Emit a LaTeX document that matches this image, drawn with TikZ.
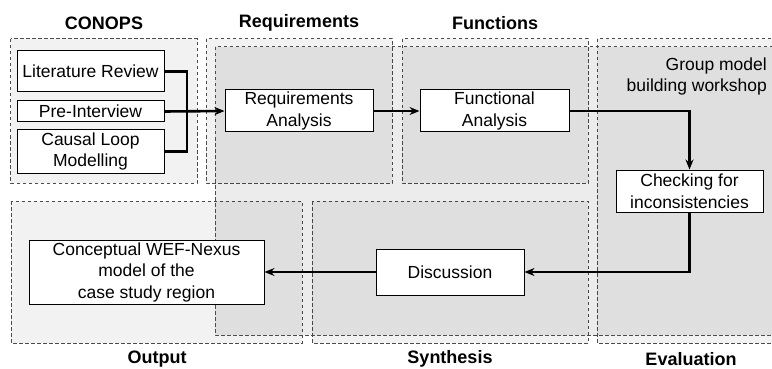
\documentclass[tikz,border=0pt]{standalone}
\usepackage{fontspec}
\setmainfont{Liberation Sans}
\usetikzlibrary{arrows.meta}
\tikzset{ blk/.style = { rectangle
                       , draw
                       , fill         = white
                       , line width   = 1pt
                       , inner sep    = 0pt
                       , align        = center
                       },
          phase/.style = { draw = black!70
                         , line width   = 1pt
                         , dash pattern = on 3.5pt off 2.5pt
                         , fill = black!5
                         },
          ttl/.style = { font = \fontsize{18}{22}\selectfont\bfseries
                       , inner sep = 0pt
                       },
          con/.style = { line width = 2.6pt },
          arr/.style = { con
                       , -{Stealth[length=10pt, width=8pt]}
                       }
        }

\begin{document}
\begin{tikzpicture}[x=1pt, y=-1pt, font=\fontsize{17.5}{21.5}\selectfont]
            \clip (0,0) rectangle (772,369);
            %phases
            \path[phase] (10.5,39) rectangle (197,183);
            \path[phase] (206,39) rectangle (392,183);
            \path[phase] (402,39) rectangle (588,183);
            \path[phase] (597,39) rectangle (800,343);
            \path[phase] (11,201) rectangle (302,343);
            \path[phase] (312,201) rectangle (588,343);
            %workshop
            \path[draw = black!70, line width = 1pt, dash pattern = on 3.5pt off 2.5pt,
                  fill = black, fill opacity = 0.075] (215,47) rectangle (800,335);

            \node[ttl] (tconops) at (104,23)  {CONOPS};
            \node[ttl] (treq)    at (299,23)  {Requirements};
            \node[ttl] (tfun)    at (495,23)  {Functions};
            \node[ttl] (tout)    at (157,359) {Output};
            \node[ttl] (tsyn)    at (450,359) {Synthesis};
            \node[ttl] (teval)   at (691,359) {Evaluation};
            \node[inner sep=0pt, align=right, anchor=east] (gmb) at (767,76.5)
                {Group model\\building workshop};

            \node[blk, minimum width=147pt, minimum height=41pt] (lit) at (90.5,71.5)  {Literature Review};
            \node[blk, minimum width=147pt, minimum height=21pt] (pre) at (90.5,111.5) {Pre-Interview};
            \node[blk, minimum width=147pt, minimum height=43pt] (cld) at (90.5,151.5) {Causal Loop\\Modelling};
            \node[blk, minimum width=148pt, minimum height=42pt] (req) at (299,111)    {Requirements\\Analysis};
            \node[blk, minimum width=149pt, minimum height=42pt] (fun) at (494.5,111)  {Functional\\Analysis};
            \node[blk, minimum width=147pt, minimum height=42pt] (chk) at (689.5,191)  {Checking for\\inconsistencies};
            \node[blk, minimum width=148pt, minimum height=46pt] (dis) at (450,272)    {Discussion};
            \node[blk, minimum width=235pt, minimum height=64pt] (cwm) at (146.5,272)  {Conceptual WEF-Nexus\\model of the\\case study region};

            \coordinate (merge) at (187,111.5);
            \draw[con] (lit.east) -| (merge) |- (cld.east);
            \draw[arr] (pre.east) -- (req.west);
            \draw[arr] (req.east) -- (fun.west);
            \draw[arr] (fun.east) -| (chk.north);
            \draw[arr] (chk.south) |- (dis.east);
            \draw[arr] (dis.west) -- (cwm.east);
\end{tikzpicture}
\end{document}
